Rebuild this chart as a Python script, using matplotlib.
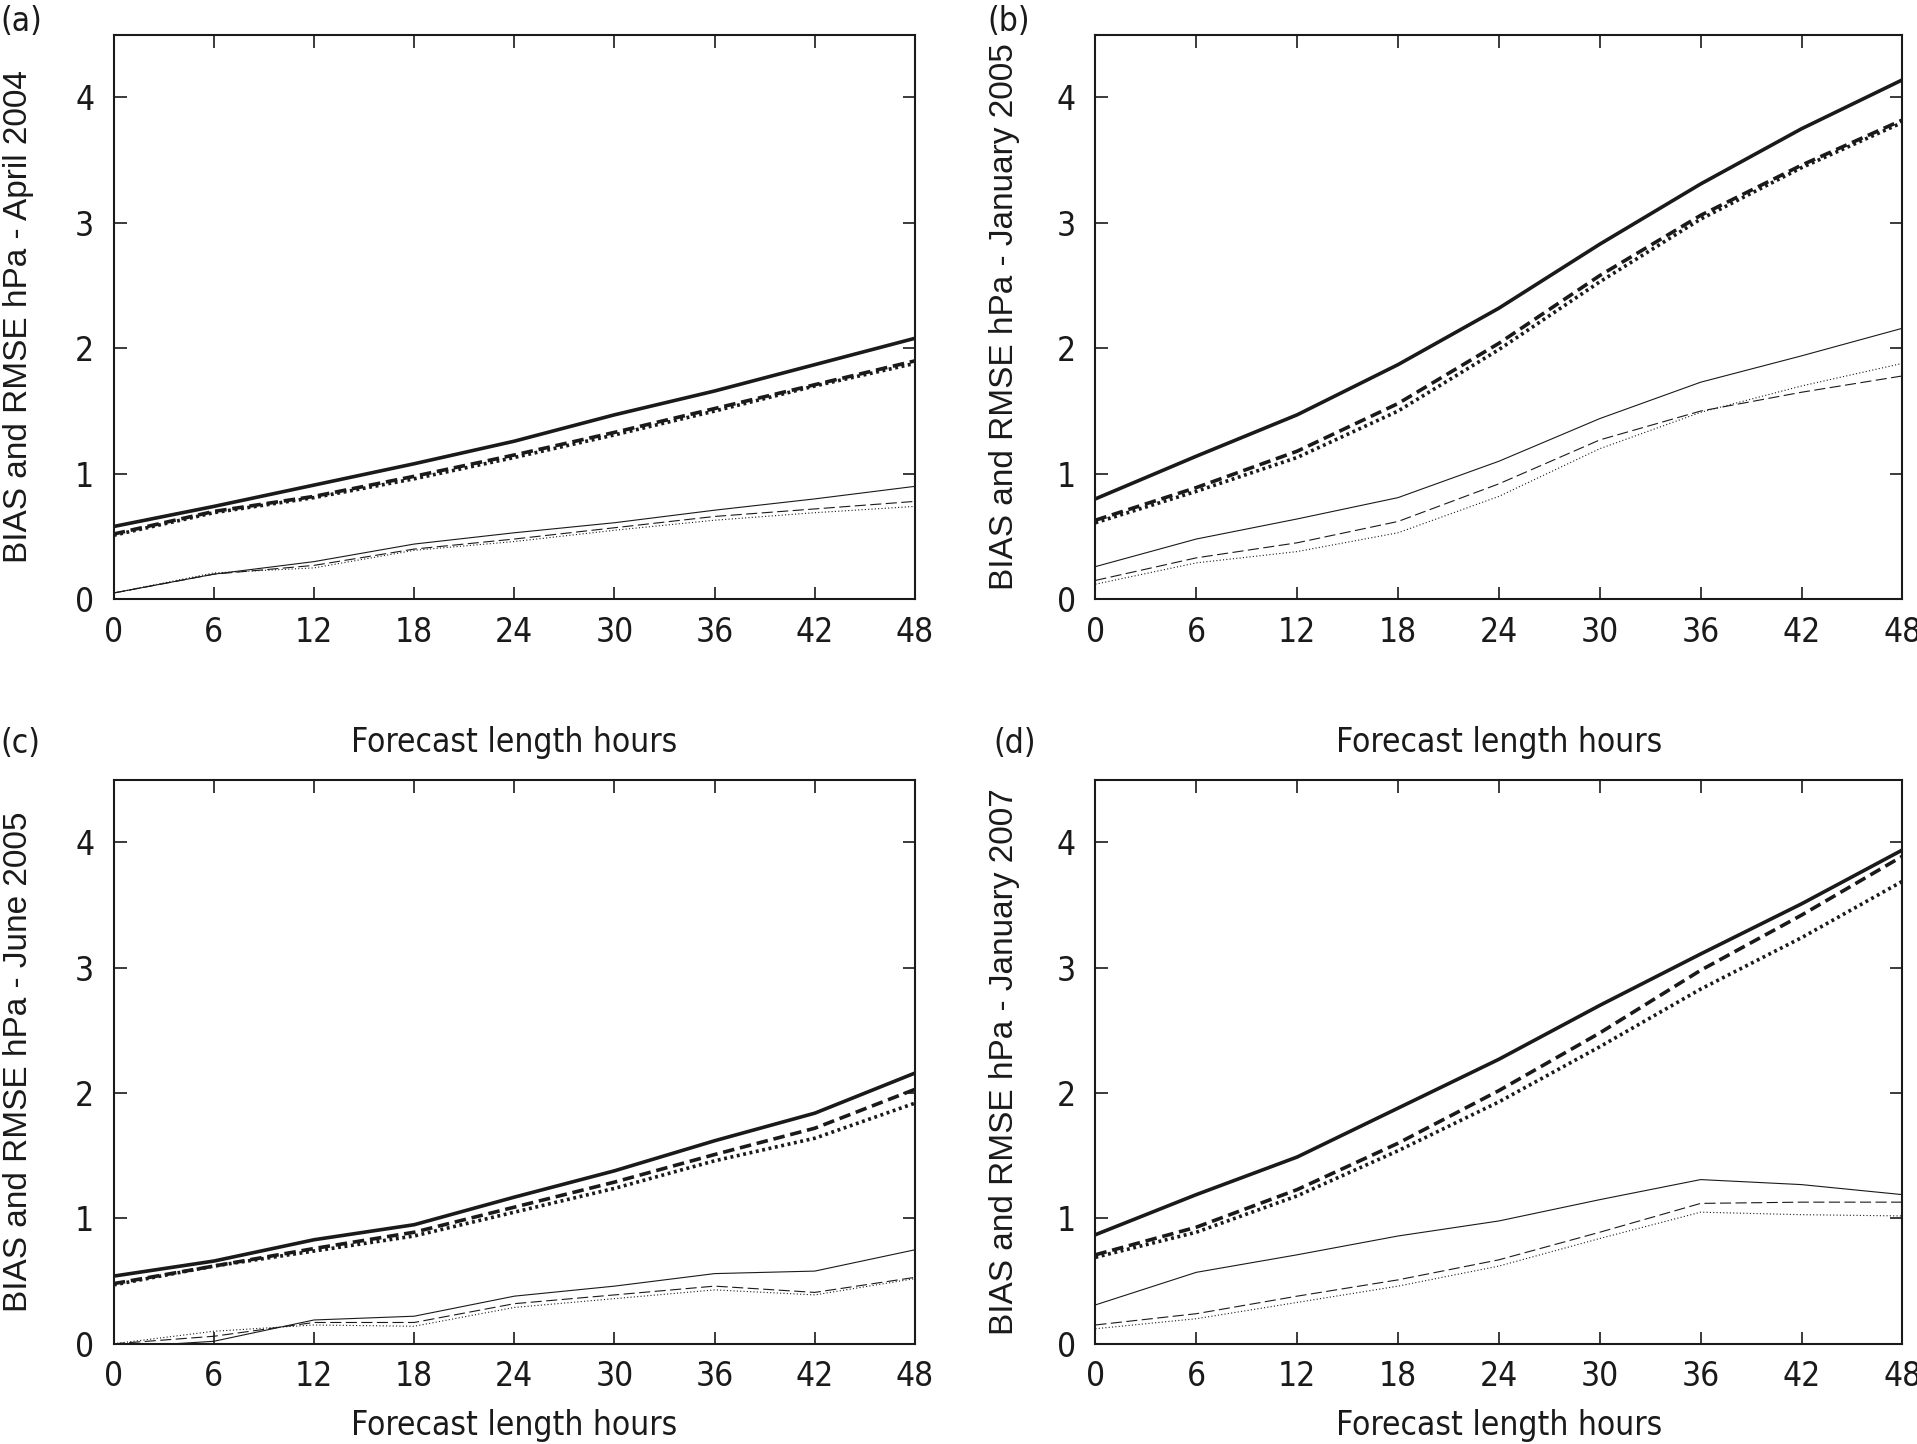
import matplotlib
matplotlib.use("Agg")
import matplotlib.pyplot as plt

# forecast hours
hours = [0, 6, 12, 18, 24, 30, 36, 42, 48]

# (a) April 2004
a_rmse_1 = [0.58, 0.74, 0.91, 1.08, 1.26, 1.47, 1.66, 1.87, 2.08]
a_rmse_2 = [0.52, 0.70, 0.82, 0.98, 1.15, 1.33, 1.52, 1.71, 1.90]
a_rmse_3 = [0.51, 0.69, 0.81, 0.96, 1.13, 1.31, 1.50, 1.70, 1.88]
a_bias_1 = [0.05, 0.20, 0.30, 0.44, 0.53, 0.61, 0.71, 0.80, 0.90]
a_bias_2 = [0.05, 0.20, 0.27, 0.40, 0.48, 0.57, 0.66, 0.72, 0.78]
a_bias_3 = [0.05, 0.21, 0.25, 0.39, 0.46, 0.55, 0.63, 0.69, 0.74]

# (b) January 2005
b_rmse_1 = [0.80, 1.14, 1.47, 1.87, 2.32, 2.83, 3.31, 3.75, 4.14]
b_rmse_2 = [0.63, 0.89, 1.18, 1.56, 2.04, 2.58, 3.06, 3.46, 3.82]
b_rmse_3 = [0.61, 0.86, 1.13, 1.50, 1.99, 2.53, 3.03, 3.44, 3.80]
b_bias_1 = [0.26, 0.48, 0.64, 0.81, 1.10, 1.44, 1.73, 1.94, 2.16]
b_bias_2 = [0.15, 0.33, 0.45, 0.62, 0.92, 1.27, 1.50, 1.65, 1.78]
b_bias_3 = [0.12, 0.29, 0.38, 0.53, 0.82, 1.20, 1.49, 1.70, 1.88]

# (c) June 2005
c_rmse_1 = [0.54, 0.66, 0.83, 0.95, 1.17, 1.38, 1.62, 1.84, 2.16]
c_rmse_2 = [0.48, 0.62, 0.76, 0.89, 1.09, 1.29, 1.51, 1.72, 2.03]
c_rmse_3 = [0.47, 0.62, 0.74, 0.86, 1.05, 1.24, 1.46, 1.64, 1.92]
c_bias_1 = [-0.03, 0.02, 0.19, 0.22, 0.38, 0.46, 0.56, 0.58, 0.75]
c_bias_2 = [0.00, 0.06, 0.17, 0.17, 0.32, 0.39, 0.46, 0.41, 0.53]
c_bias_3 = [0.00, 0.10, 0.15, 0.14, 0.29, 0.36, 0.43, 0.39, 0.52]

# (d) January 2007
d_rmse_1 = [0.87, 1.19, 1.49, 1.88, 2.27, 2.70, 3.11, 3.51, 3.94]
d_rmse_2 = [0.71, 0.93, 1.23, 1.60, 2.02, 2.48, 2.98, 3.42, 3.89]
d_rmse_3 = [0.69, 0.89, 1.18, 1.54, 1.93, 2.37, 2.83, 3.24, 3.69]
d_bias_1 = [0.31, 0.57, 0.71, 0.86, 0.98, 1.15, 1.31, 1.27, 1.19]
d_bias_2 = [0.15, 0.24, 0.38, 0.51, 0.67, 0.89, 1.12, 1.13, 1.13]
d_bias_3 = [0.12, 0.20, 0.33, 0.46, 0.62, 0.84, 1.05, 1.03, 1.02]

panel_letters = ["(a)", "(b)", "(c)", "(d)"]
ylabels = ["BIAS and RMSE hPa - April 2004", "BIAS and RMSE hPa - January 2005",
           "BIAS and RMSE hPa - June 2005", "BIAS and RMSE hPa - January 2007"]
xlabel = "Forecast length hours"

panels = [
    (a_rmse_1, a_rmse_2, a_rmse_3, a_bias_1, a_bias_2, a_bias_3),
    (b_rmse_1, b_rmse_2, b_rmse_3, b_bias_1, b_bias_2, b_bias_3),
    (c_rmse_1, c_rmse_2, c_rmse_3, c_bias_1, c_bias_2, c_bias_3),
    (d_rmse_1, d_rmse_2, d_rmse_3, d_bias_1, d_bias_2, d_bias_3),
]

narrow = ["DejaVu Sans"]
plain = ["Liberation Sans", "DejaVu Sans"]
col = "#1a1a1a"

fig = plt.figure(figsize=(19.17, 14.44), dpi=100)

# axes boxes [left, bottom, width, height]
boxes = [
    [0.0593, 0.585, 0.418, 0.391],
    [0.5714, 0.585, 0.4210, 0.391],
    [0.0593, 0.0694, 0.418, 0.3906],
    [0.5714, 0.0694, 0.4210, 0.3906],
]
ylab_x = [-0.119, -0.112, -0.119, -0.112]
xlab_y = [-0.253, -0.253, -0.145, -0.145]
letter_pos = [(0.0, 0.985), (0.515, 0.985), (0.0, 0.485), (0.518, 0.485)]

for i, data in enumerate(panels):
    ax = fig.add_axes(boxes[i])
    r1, r2, r3, b1, b2, b3 = data
    ax.plot(hours, r1, color=col, lw=2.6, ls="-")
    ax.plot(hours, r2, color=col, lw=2.6, ls=(0, (3.2, 1.6)))
    ax.plot(hours, r3, color=col, lw=2.6, ls=(0, (0.8, 1.0)))
    ax.plot(hours, b1, color=col, lw=0.8, ls="-")
    ax.plot(hours, b2, color=col, lw=0.8, ls=(0, (10, 4)))
    ax.plot(hours, b3, color=col, lw=0.8, ls=(0, (1, 2)))

    ax.set_xlim(0, 48)
    ax.set_ylim(0, 4.5)
    ax.set_xticks(hours)
    ax.set_yticks([0, 1, 2, 3, 4])
    ax.tick_params(direction="in", length=9, width=1.2, top=True, right=True,
                   labelsize=24, colors=col)
    ax.tick_params(axis="x", pad=12)
    ax.tick_params(axis="y", pad=14)
    for lab in ax.get_xticklabels() + ax.get_yticklabels():
        lab.set_family(narrow)
        lab.set_fontstretch("condensed")
    for sp in ax.spines.values():
        sp.set_linewidth(1.5)
        sp.set_color(col)

    ax.set_ylabel(ylabels[i], fontsize=24, family=plain, color=col, va="center")
    ax.yaxis.set_label_coords(ylab_x[i], 0.5)
    ax.set_xlabel(xlabel, fontsize=24, family=narrow, stretch="condensed",
                  color=col, va="center")
    ax.xaxis.set_label_coords(0.5, xlab_y[i])

    fig.text(letter_pos[i][0], letter_pos[i][1], panel_letters[i], fontsize=24,
             family=narrow, stretch="condensed", color=col, ha="left", va="center")

fig.savefig("out.png", dpi=100)
